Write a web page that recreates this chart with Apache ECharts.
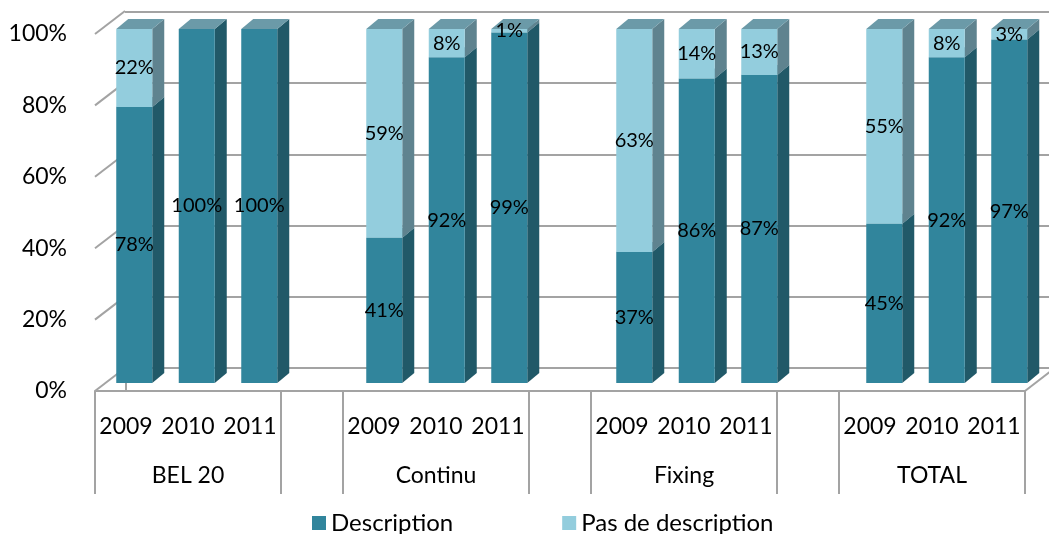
<!DOCTYPE html>
<html>
<head>
<meta charset="utf-8">
<script src="https://cdn.jsdelivr.net/npm/echarts@6/dist/echarts.min.js"></script>
<style>
html,body{margin:0;padding:0;background:#fff;}
#chart{width:1049px;height:534px;}
</style>
</head>
<body>
<div id="chart"></div>
<script>
const groups = ['BEL 20', 'Continu', 'Fixing', 'TOTAL'];
const years = ['2009', '2010', '2011'];
const descValues = [78, 100, 100, 41, 92, 99, 37, 86, 87, 45, 92, 97];
const pasValues = [22, 0, 0, 59, 8, 1, 63, 14, 13, 55, 8, 3];
const yTicks = [0, 20, 40, 60, 80, 100];

const FONT = 'Lato, "Open Sans", sans-serif';
const GRID_COLOR = '#A3A3A3';
const DEPTH_X = 30, DEPTH_Y = 23;   // wall depth offset
const BAR_DX = 12, BAR_DY = 10;     // bar depth offset
const BAR_RATIO = 36 / 62.5;

// 15 slots: 3 years per group + blank slot between groups
const slotYearLabels = [];
const slotGroupLabels = [];
for (let g = 0; g < groups.length; g++) {
  for (let y = 0; y < years.length; y++) {
    slotYearLabels.push(years[y]);
    slotGroupLabels.push(y === 1 ? groups[g] : '');
  }
  if (g < groups.length - 1) { slotYearLabels.push(''); slotGroupLabels.push(''); }
}
const slotOf = i => Math.floor(i / 3) * 4 + (i % 3);

const descData = descValues.map((v, i) => [slotOf(i), 0, v, v]);
const pasData = pasValues.map((v, i) => [slotOf(i), descValues[i], descValues[i] + v, v]);
const separators = [-0.5, 2.5, 3.5, 6.5, 7.5, 10.5, 11.5, 14.5];

function makeBarRenderer(front, side, top) {
  return function (params, api) {
    const x = api.value(0), b = api.value(1), t = api.value(2), v = api.value(3);
    if (v <= 0) return null;
    const pb = api.coord([x, b]);
    const pt = api.coord([x, t]);
    const w = api.size([1, 0])[0] * BAR_RATIO;
    const x0 = pb[0] - w / 2, x1 = pb[0] + w / 2;
    const yb = pb[1], yt = pt[1];
    return {
      type: 'group',
      children: [
        { type: 'polygon', shape: { points: [[x1, yb], [x1 + BAR_DX, yb - BAR_DY], [x1 + BAR_DX, yt - BAR_DY], [x1, yt]] }, style: { fill: side } },
        { type: 'polygon', shape: { points: [[x0, yt], [x1, yt], [x1 + BAR_DX, yt - BAR_DY], [x0 + BAR_DX, yt - BAR_DY]] }, style: { fill: top } },
        { type: 'rect', shape: { x: x0, y: yt, width: w, height: yb - yt }, style: { fill: front } },
        { type: 'text', z2: 10, style: { text: v + '%', x: (x0 + x1) / 2, y: (yb + yt) / 2, align: 'center', verticalAlign: 'middle', font: '20px ' + FONT, fill: '#000' } }
      ]
    };
  };
}

const chart = echarts.init(document.getElementById('chart'));
chart.setOption({
  animation: false,
  backgroundColor: '#fff',
  grid: [
    { left: 95, top: 34, width: 930, height: 357 },   // front plane
    { left: 125, top: 12, width: 935, height: 356 },  // back wall
    { left: 103, top: 29, width: 937.5, height: 354 } // bar plane
  ],
  xAxis: [
    { gridIndex: 0, type: 'value', min: -0.5, max: 14.5, show: false },
    { gridIndex: 0, type: 'category', position: 'bottom', data: slotYearLabels,
      axisLine: { show: true, lineStyle: { color: GRID_COLOR, width: 2 } }, axisTick: { show: false },
      axisLabel: { interval: 0, fontSize: 23, fontFamily: FONT, color: '#000', margin: 24 } },
    { gridIndex: 0, type: 'category', position: 'bottom', data: slotGroupLabels,
      axisLine: { show: false }, axisTick: { show: false },
      axisLabel: { interval: 0, fontSize: 23, fontFamily: FONT, color: '#000', margin: 73 } },
    { gridIndex: 1, type: 'value', min: 0, max: 1, show: false },
    { gridIndex: 2, type: 'category', data: slotYearLabels, show: false }
  ],
  yAxis: [
    { gridIndex: 0, type: 'value', min: 0, max: 100, interval: 20,
      axisLine: { show: true, lineStyle: { color: GRID_COLOR, width: 2 } }, axisTick: { show: false },
      splitLine: { show: false },
      axisLabel: { formatter: '{value}%', fontSize: 23, fontFamily: FONT, color: '#000', margin: 28 } },
    { gridIndex: 1, type: 'value', min: 0, max: 100, interval: 20,
      axisLine: { show: false }, axisTick: { show: false }, axisLabel: { show: false },
      splitLine: { show: true, lineStyle: { color: GRID_COLOR, width: 2 } } },
    { gridIndex: 2, type: 'value', min: 0, max: 100, show: false }
  ],
  legend: {
    left: 307, top: 506, itemWidth: 14, itemHeight: 14, itemGap: 109, icon: 'rect',
    textStyle: { fontSize: 24, fontFamily: FONT, color: '#000' },
    data: ['Description', 'Pas de description']
  },
  series: [
    { type: 'custom', name: 'walls', xAxisIndex: 0, yAxisIndex: 0, silent: true,
      data: yTicks.map(v => [v]),
      renderItem: function (params, api) {
        const p = api.coord([-0.5, api.value(0)]);
        const children = [{ type: 'line', shape: { x1: p[0], y1: p[1], x2: p[0] + DEPTH_X, y2: p[1] - DEPTH_Y }, style: { stroke: GRID_COLOR, lineWidth: 2 } }];
        if (api.value(0) === 0) {
          const q = api.coord([14.5, 0]);
          children.push({ type: 'line', shape: { x1: q[0], y1: q[1], x2: q[0] + DEPTH_X, y2: q[1] - DEPTH_Y }, style: { stroke: GRID_COLOR, lineWidth: 2 } });
        }
        return { type: 'group', children };
      } },
    { type: 'custom', name: 'separators', xAxisIndex: 0, yAxisIndex: 0, silent: true,
      data: separators.map(s => [s]),
      renderItem: function (params, api) {
        const p = api.coord([api.value(0), 0]);
        return { type: 'line', shape: { x1: p[0], y1: p[1], x2: p[0], y2: p[1] + 103 }, style: { stroke: GRID_COLOR, lineWidth: 2 } };
      } },
    { type: 'custom', name: 'Description', xAxisIndex: 4, yAxisIndex: 2,
      itemStyle: { color: '#31859C' }, data: descData,
      encode: { x: 0, y: 2 },
      renderItem: makeBarRenderer('#31859C', '#215968', '#6B9AA8') },
    { type: 'custom', name: 'Pas de description', xAxisIndex: 4, yAxisIndex: 2,
      itemStyle: { color: '#93CDDD' }, data: pasData,
      encode: { x: 0, y: 2 },
      renderItem: makeBarRenderer('#93CDDD', '#5F838F', '#6B9AA8') }
  ]
});
</script>
</body>
</html>
